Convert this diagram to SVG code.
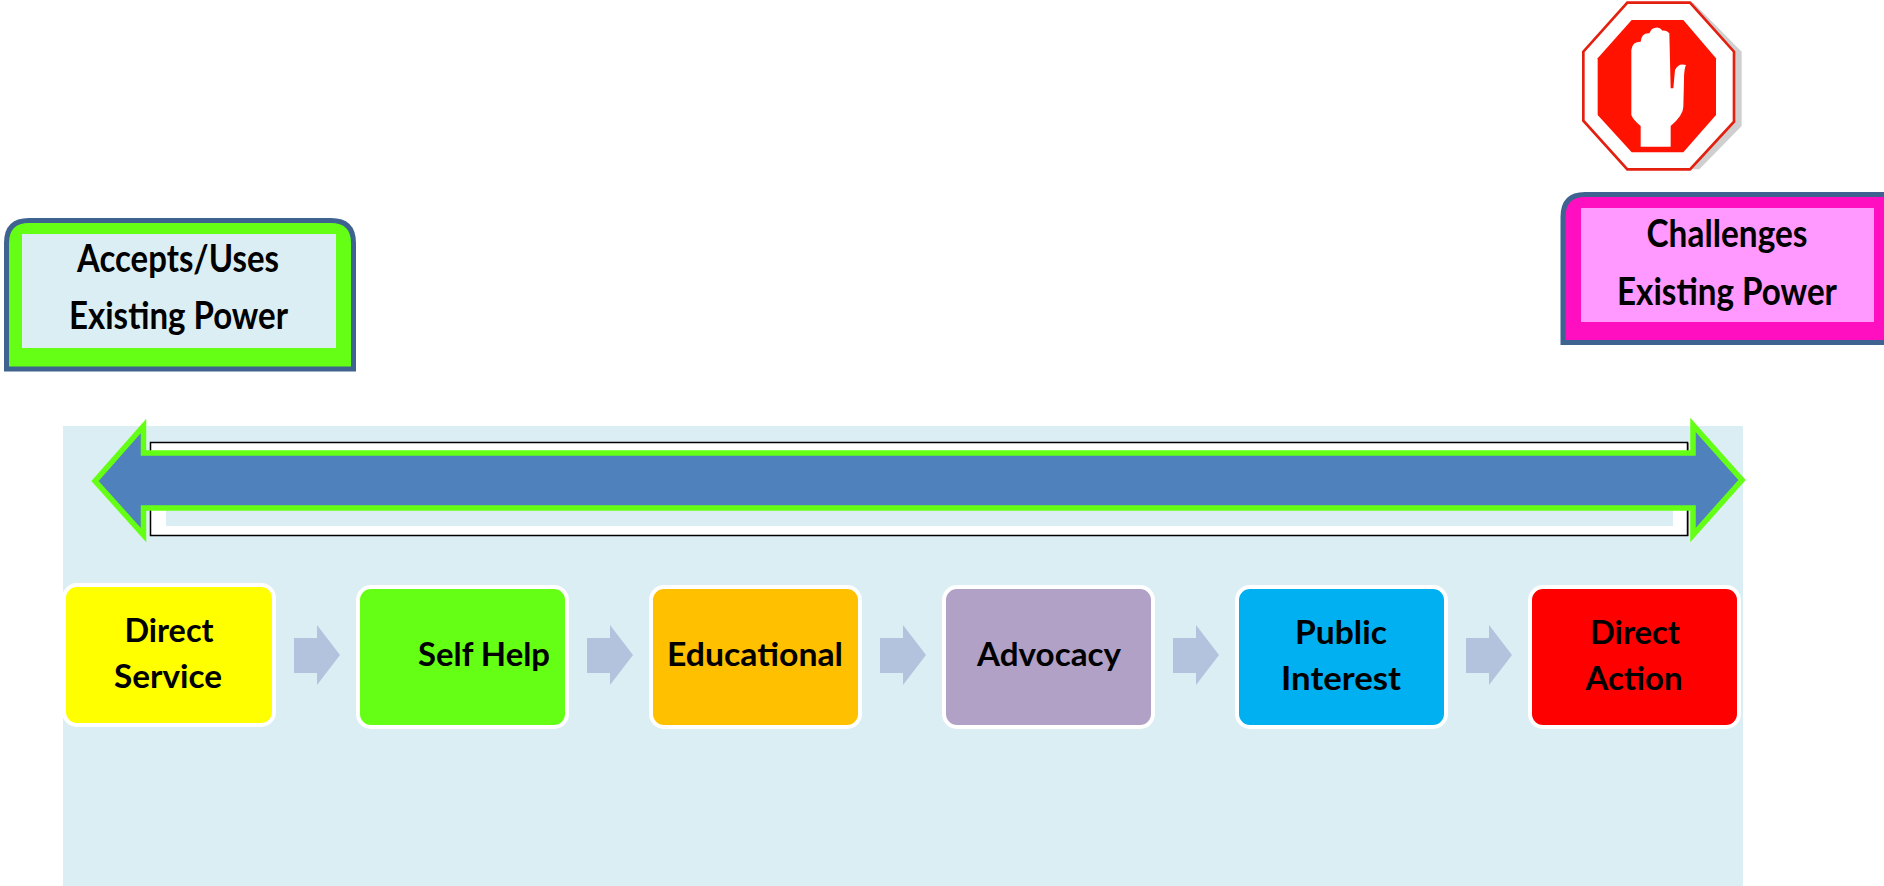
<svg xmlns="http://www.w3.org/2000/svg" width="1884" height="886" viewBox="0 0 1884 886">
<style>
text{font-family:"Lato","Liberation Sans",sans-serif;font-weight:700;fill:#000;text-anchor:middle}
.big{font-size:38px}
.n{font-size:33px}
.card{stroke:#fff;stroke-width:4}
.flow{fill:#B3C3DE}
</style>
<rect width="1884" height="886" fill="#fff"/>
<rect id="panel" x="63" y="426" width="1680" height="460" fill="#DBEEF4"/>
<g id="scale-bar">
<rect x="151" y="443" width="1538" height="93" fill="#999"/>
<rect x="150.500" y="442.500" width="1537" height="93" fill="#fff" stroke="#000" stroke-width="1.500"/>
<rect x="166" y="452" width="1507" height="74" fill="#DBEEF4"/>
<path d="M95 481L143.500 426V453H1693V425L1742 480L1693 535V508H143.500V535Z" fill="#4F81BD" stroke="#64FF14" stroke-width="5.500"/>
</g>
<g id="stop-sign" transform="translate(1540 0) scale(.33333)">
<path d="M460 8L605 155V378L478 508H300V8Z" fill="#CFCFCF"/>
<path d="M262 8H450L582 155V365L450 508H262L130 362V155Z" fill="#fff" stroke="#E3200F" stroke-width="8"/>
<path d="M275 60H430L528 175V345L430 457H275L173 345V175Z" fill="#FF1200"/>
<path d="M302 440H392V378Q430 345 430 320L432 240Q432 205 438 195Q415 188 405 210L400 265H392L388 100Q380 90 368 92Q355 76 335 88L328 100Q305 98 302 125Q276 125 274 150V345Q280 360 302 378Z" fill="#fff"/>
</g>
<g id="accepts">
<path d="M6.500 369V243Q6.500 220.500 29 220.500H331Q353.500 220.500 353.500 243V369Z" fill="#64FF14" stroke="#3F6390" stroke-width="5"/>
<rect x="22" y="234" width="314" height="114" fill="#DBEEF4"/>
<text class="big" x="178" y="272" textLength="202" lengthAdjust="spacingAndGlyphs">Accepts/Uses</text>
<text class="big" x="178.500" y="329" textLength="219" lengthAdjust="spacingAndGlyphs">Existing Power</text>
</g>
<g id="challenges">
<path d="M1890 194.500H1585Q1563 194.500 1563 217V342.500H1890Z" fill="#FF0FBF" stroke="#3F6390" stroke-width="5"/>
<rect x="1581" y="208" width="293" height="114" fill="#FF99FF"/>
<text class="big" x="1727" y="247" textLength="161" lengthAdjust="spacingAndGlyphs">Challenges</text>
<text class="big" x="1727" y="305" textLength="220" lengthAdjust="spacingAndGlyphs">Existing Power</text>
</g>
<g id="connectors">
<path class="flow" d="M294 638H317V625L340 655L317 685V673H294Z"/>
<path class="flow" d="M587 638H610V625L633 655L610 685V673H587Z"/>
<path class="flow" d="M880 638H903V625L926 655L903 685V673H880Z"/>
<path class="flow" d="M1173 638H1196V625L1219 655L1196 685V673H1173Z"/>
<path class="flow" d="M1466 638H1489V625L1512 655L1489 685V673H1466Z"/>
</g>
<g id="direct-service">
<rect class="card" x="64" y="585" width="210" height="140" rx="13" fill="#FFFF00"/>
<text class="n" x="169" y="642" textLength="89" lengthAdjust="spacingAndGlyphs">Direct</text>
<text class="n" x="168" y="688" textLength="108" lengthAdjust="spacingAndGlyphs">Service</text>
</g>
<g id="self-help">
<rect class="card" x="358" y="587" width="209" height="140" rx="13" fill="#64FF14"/>
<text class="n" x="484" y="666" textLength="132" lengthAdjust="spacingAndGlyphs">Self Help</text>
</g>
<g id="educational">
<rect class="card" x="651" y="587" width="209" height="140" rx="13" fill="#FFC000"/>
<text class="n" x="755" y="666" textLength="176" lengthAdjust="spacingAndGlyphs">Educational</text>
</g>
<g id="advocacy">
<rect class="card" x="944" y="587" width="209" height="140" rx="13" fill="#B2A1C7"/>
<text class="n" x="1049" y="666" textLength="144" lengthAdjust="spacingAndGlyphs">Advocacy</text>
</g>
<g id="public-interest">
<rect class="card" x="1237" y="587" width="209" height="140" rx="13" fill="#00B0F0"/>
<text class="n" x="1341" y="644" textLength="92" lengthAdjust="spacingAndGlyphs">Public</text>
<text class="n" x="1341" y="690" textLength="120" lengthAdjust="spacingAndGlyphs">Interest</text>
</g>
<g id="direct-action">
<rect class="card" x="1530" y="587" width="209" height="140" rx="13" fill="#FF0000"/>
<text class="n" x="1635" y="644" textLength="90" lengthAdjust="spacingAndGlyphs">Direct</text>
<text class="n" x="1634" y="690" textLength="97" lengthAdjust="spacingAndGlyphs">Action</text>
</g>
</svg>
